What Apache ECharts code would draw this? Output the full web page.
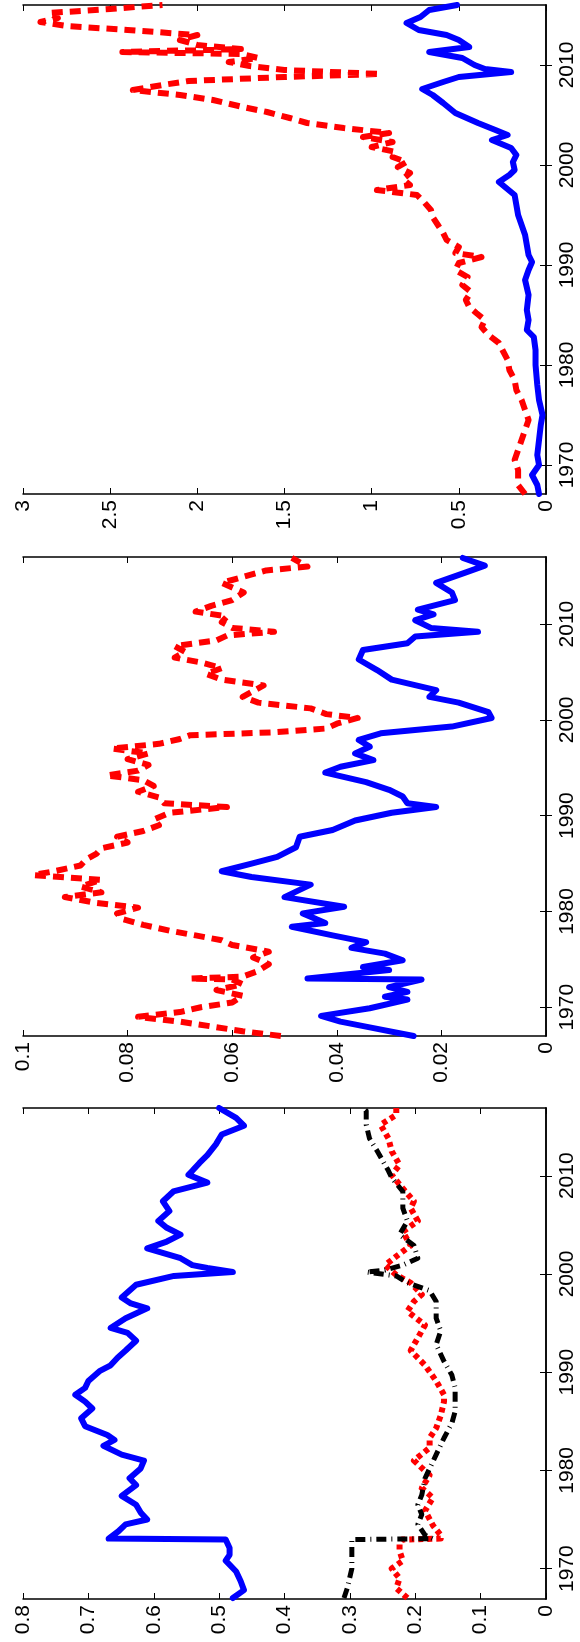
<!DOCTYPE html>
<html>
<head>
<meta charset="utf-8">
<script src="https://cdn.jsdelivr.net/npm/echarts@6/dist/echarts.min.js"></script>
<style>
html,body{margin:0;padding:0;background:#fff;}
#chart{width:580px;height:1642px;}
</style>
</head>
<body>
<div id="chart"></div>
<script>
// ---------- Tick labels ----------
const yearTicks = [1970, 1980, 1990, 2000, 2010];

// ---------- Panel C (top, 0..3) ----------
const yearsCBlue = [1967.1,1968,1969,1970,1971,1972.5,1974,1975,1976.5,1978,1980,1981.5,1982.8,1983.5,1984.5,1985.5,1987,1988.5,1989.5,1990.3,1991,1992,1993,1994,1995,1996,1997,1998.3,1999,1999.5,2000.3,2001,2001.7,2002.5,2003,2003.5,2004.2,2005.2,2006.2,2007,2007.6,2008.3,2008.8,2009.3,2009.6,2010,2010.7,2011.3,2011.8,2012.5,2013,2013.5,2014.2,2014.8,2015.5,2016];
const valsCBlue  = [0.04,0.05,0.08,0.04,0.05,0.04,0.03,0.02,0.04,0.05,0.06,0.06,0.07,0.11,0.10,0.11,0.10,0.12,0.10,0.08,0.10,0.11,0.12,0.14,0.16,0.17,0.18,0.27,0.21,0.18,0.19,0.17,0.20,0.31,0.22,0.29,0.39,0.52,0.59,0.65,0.71,0.59,0.50,0.20,0.35,0.41,0.48,0.67,0.44,0.50,0.57,0.73,0.80,0.72,0.67,0.51];

const yearsCRed = [1967.1,1968,1969.5,1970.5,1971.5,1972.5,1973.5,1974.5,1975.5,1976.5,1977.5,1978.5,1979.5,1980.5,1981.5,1982.2,1983,1983.8,1984.5,1985.2,1985.8,1986.5,1987.3,1988,1988.8,1989.5,1990.2,1990.8,1991.2,1991.8,1992.5,1993.2,1994,1994.8,1995.5,1996.3,1997,1997.5,1998,1998.6,1999.2,1999.8,2000.3,2000.8,2001.3,2001.8,2002.3,2002.8,2003.2,2003.7,2004.2,2004.7,2005.3,2005.8,2006.5,2007,2007.5,2008,2008.4,2008.8,2009.1,2009.5,2009.9,2010.3,2010.7,2011.1,2011.3,2011.6,2012,2012.5,2013,2013.5,2013.9,2014.3,2014.7,2015.2,2015.6,2016];
const valsCRed  = [0.12,0.16,0.16,0.18,0.16,0.14,0.12,0.10,0.12,0.14,0.17,0.18,0.21,0.22,0.25,0.27,0.33,0.37,0.35,0.40,0.44,0.46,0.43,0.48,0.45,0.52,0.50,0.37,0.52,0.50,0.57,0.59,0.62,0.65,0.66,0.70,0.74,0.97,0.78,0.82,0.78,0.85,0.80,0.88,0.86,1.00,0.88,1.05,0.90,1.16,1.37,1.47,1.60,1.74,1.91,2.10,2.37,2.20,2.05,1.50,0.95,1.50,1.70,1.82,1.65,1.75,2.43,1.75,2.00,2.10,2.00,2.40,2.75,2.90,2.80,2.85,2.50,2.20];

// ---------- Panel B (middle, 0..0.1) ----------
const yearsBBlue = [1967,1967.9,1968.5,1969.1,1969.9,1970.8,1971.1,1971.6,1972.1,1972.9,1973,1973.9,1974.2,1974.9,1975.6,1976.2,1976.8,1977.5,1978.4,1978.8,1979.8,1980.5,1981.5,1982.8,1983.6,1984.2,1985,1985.7,1986.7,1987.8,1988.5,1989.5,1990.3,1990.9,1991.3,1992,1992.7,1993.5,1994.5,1995.1,1995.8,1996.5,1997.2,1997.9,1998.6,1999.3,2000.2,2000.8,2001.8,2002.4,2003.1,2004.2,2005.2,2006.3,2007.3,2008,2008.7,2009.2,2009.6,2010.4,2011,2011.5,2012.5,2013.3,2014.3,2015.4,2016.1,2016.9];
const valsBBlue  = [0.0253,0.0337,0.0393,0.043,0.0337,0.0265,0.0308,0.0265,0.030,0.0238,0.0456,0.030,0.035,0.0274,0.0308,0.0372,0.0344,0.0408,0.0486,0.0422,0.0465,0.0386,0.050,0.045,0.0563,0.062,0.0563,0.0514,0.0478,0.0471,0.0408,0.0365,0.0295,0.021,0.0265,0.0274,0.030,0.0344,0.0422,0.0393,0.033,0.0365,0.0337,0.0358,0.0316,0.018,0.0104,0.011,0.0167,0.0223,0.021,0.0295,0.0323,0.0358,0.035,0.0265,0.025,0.013,0.022,0.025,0.0215,0.0245,0.0174,0.018,0.021,0.0153,0.0117,0.0159];

const yearsBRed = [1967,1967.5,1968,1968.5,1969,1969.5,1970,1970.5,1971.2,1971.8,1972.4,1972.9,1973,1973.2,1973.8,1974.5,1975.2,1975.8,1976.5,1977,1977.5,1978,1978.6,1979.2,1979.8,1980.4,1980.9,1981.5,1982,1982.6,1983.3,1983.8,1984.2,1984.8,1985.4,1986,1986.6,1987.2,1987.8,1988.4,1989,1989.6,1990.3,1990.9,1991.3,1991.9,1992.5,1993.1,1993.7,1994.2,1994.7,1995.3,1995.9,1996.5,1997,1997.5,1998,1998.4,1998.7,1999.1,1999.6,2000.2,2000.6,2001.2,2001.8,2002.4,2003,2003.6,2004.2,2004.8,2005.4,2006,2006.5,2007.1,2007.7,2008.3,2008.8,2009.2,2009.6,2010.2,2010.8,2011.3,2011.9,2012.5,2013.3,2014.3,2015.6,2016,2016.9];
const valsBRed  = [0.0507,0.058,0.064,0.070,0.078,0.070,0.066,0.060,0.058,0.063,0.058,0.060,0.068,0.058,0.055,0.053,0.056,0.053,0.060,0.062,0.067,0.072,0.077,0.081,0.082,0.078,0.086,0.092,0.085,0.089,0.085,0.098,0.094,0.089,0.088,0.086,0.085,0.080,0.082,0.077,0.074,0.075,0.072,0.061,0.073,0.074,0.078,0.075,0.077,0.084,0.078,0.076,0.080,0.076,0.083,0.074,0.070,0.068,0.052,0.042,0.040,0.036,0.042,0.045,0.055,0.058,0.056,0.054,0.062,0.065,0.062,0.066,0.071,0.069,0.071,0.063,0.061,0.052,0.060,0.062,0.061,0.067,0.064,0.060,0.0578,0.062,0.0535,0.0456,0.0486];

// ---------- Panel A (bottom, 0..0.8) ----------
const yearsABlue = [1967,1967.8,1968.7,1969.7,1970.8,1971.4,1972.1,1972.95,1973.05,1973.8,1974.5,1975,1975.7,1976.5,1977.4,1978.5,1979.2,1980.2,1981,1981.6,1982.5,1983.1,1983.6,1984.5,1985.3,1986.3,1987,1987.7,1988.4,1989.1,1990.1,1990.7,1991.5,1992.2,1993.2,1994,1994.5,1995.5,1996.5,1997,1997.6,1998.9,1999.8,2000.2,2000.6,2000.9,2001.6,2002.6,2003.3,2004,2004.7,2005.4,2006.4,2007.4,2008.4,2009.3,2010.1,2010.5,2011.3,2012.1,2013.2,2014.2,2015.1,2015.9,2016.9];
const valsABlue  = [0.479,0.462,0.467,0.474,0.49,0.484,0.484,0.49,0.669,0.654,0.643,0.61,0.62,0.627,0.649,0.627,0.637,0.62,0.615,0.649,0.677,0.66,0.671,0.705,0.711,0.694,0.705,0.72,0.705,0.70,0.683,0.666,0.655,0.643,0.627,0.64,0.666,0.643,0.61,0.635,0.649,0.627,0.569,0.479,0.518,0.541,0.559,0.61,0.58,0.559,0.58,0.593,0.576,0.586,0.57,0.518,0.547,0.541,0.53,0.518,0.505,0.496,0.462,0.474,0.50];

const yearsARed = [1967,1968,1969,1970,1970.8,1971.8,1972.6,1972.95,1973.05,1973.4,1974.4,1975.9,1977.2,1978.2,1979.5,1981,1982.3,1983.3,1984.3,1985.6,1987,1987.7,1989.1,1990.7,1992.2,1993.5,1994.8,1996.2,1997.2,1997.9,1999.1,1999.9,2000.9,2001.8,2002.9,2004.3,2005.4,2006.7,2007.4,2008.7,2010.1,2011.1,2012.5,2013.8,2015.2,2016.2,2016.9];
const valsARed  = [0.212,0.229,0.224,0.236,0.219,0.224,0.224,0.22,0.161,0.161,0.173,0.185,0.173,0.19,0.178,0.202,0.178,0.178,0.168,0.161,0.156,0.156,0.168,0.185,0.207,0.196,0.185,0.212,0.202,0.19,0.207,0.229,0.246,0.229,0.207,0.219,0.196,0.207,0.202,0.219,0.236,0.224,0.236,0.241,0.253,0.229,0.229];

const yearsABlack = [1967,1968,1970,1972.1,1972.95,1973.05,1973.4,1974.5,1975.5,1976.5,1977.5,1979.2,1980.2,1981.6,1983.3,1984.8,1986,1987,1988.4,1989.7,1991.1,1992.8,1994.2,1995.5,1997.2,1998.3,1999.1,1999.8,2000.2,2000.4,2000.9,2001.6,2002.9,2004,2005.4,2006.7,2008.4,2009.8,2010.5,2012.5,2013.8,2015.2,2016.6,2016.9];
const valsABlack  = [0.309,0.304,0.297,0.297,0.297,0.173,0.185,0.196,0.19,0.196,0.19,0.185,0.178,0.168,0.156,0.144,0.139,0.139,0.139,0.144,0.156,0.168,0.161,0.168,0.168,0.178,0.212,0.229,0.275,0.246,0.219,0.196,0.202,0.224,0.212,0.219,0.219,0.236,0.241,0.258,0.27,0.275,0.275,0.28];

function pairs(ys, vs) { return vs.map(function (v, i) { return [v, ys[i]]; }); }

const FONT = '"Liberation Sans", Arial, Helvetica, sans-serif';
const FSIZE = 21;

const grids = [
  {left: 23, right: 34, top: 5, height: 489},
  {left: 23, right: 34, top: 557, height: 479},
  {left: 23, right: 34, top: 1108, height: 491}
];
const panelX = [{max: 3, interval: 0.5}, {max: 0.1, interval: 0.02}, {max: 0.8, interval: 0.1}];
const panelY = [{min: 1967.1, max: 2016}, {min: 1967, max: 2017}, {min: 1966.9, max: 2016.9}];

const axisLineStyle = {show: true, lineStyle: {color: '#000', width: 1.5}};
const tickStyle = {color: '#000', width: 1};
const xAxes = [], yAxes = [];
panelX.forEach(function (p, g) {
  xAxes.push({
    type: 'value', gridIndex: g, position: 'bottom', inverse: true,
    min: 0, max: p.max, interval: p.interval,
    axisLine: axisLineStyle,
    axisTick: {show: true, inside: true, length: 6, lineStyle: tickStyle},
    axisLabel: {show: true, rotate: 90, margin: 6, fontSize: FSIZE, color: '#000', fontFamily: FONT, showMinLabel: true, showMaxLabel: true},
    splitLine: {show: false}
  });
  xAxes.push({
    type: 'value', gridIndex: g, position: 'top', inverse: true,
    min: 0, max: p.max, interval: p.interval,
    axisLine: axisLineStyle,
    axisTick: {show: true, inside: true, length: 6, lineStyle: tickStyle},
    axisLabel: {show: false},
    splitLine: {show: false}
  });
});
panelY.forEach(function (p, g) {
  yAxes.push({
    type: 'value', gridIndex: g, position: 'right',
    min: p.min, max: p.max,
    axisLine: axisLineStyle,
    axisTick: {show: true, inside: true, length: 6, customValues: yearTicks, lineStyle: tickStyle},
    axisLabel: {show: true, rotate: 90, margin: 11, fontSize: FSIZE, color: '#000', fontFamily: FONT,
                customValues: yearTicks, formatter: function (v) { return String(Math.round(v)); }},
    splitLine: {show: false}
  });
  yAxes.push({
    type: 'value', gridIndex: g, position: 'left',
    min: p.min, max: p.max,
    axisLine: axisLineStyle,
    axisTick: {show: true, inside: true, length: 6, customValues: yearTicks, lineStyle: tickStyle},
    axisLabel: {show: false},
    splitLine: {show: false}
  });
});

function line(name, g, ys, vs, color, width, type, cap) {
  return {
    name: name, type: 'line', xAxisIndex: g * 2, yAxisIndex: g * 2,
    data: pairs(ys, vs), showSymbol: false, symbol: 'none', clip: true,
    lineStyle: {color: color, width: width, type: type, cap: cap || 'butt', join: 'round'},
    animation: false
  };
}

const series = [
  line('C blue', 0, yearsCBlue, valsCBlue, '#0000ff', 6, 'solid', 'round'),
  line('C red', 0, yearsCRed, valsCRed, '#ff0000', 6, [11, 7]),
  line('B blue', 1, yearsBBlue, valsBBlue, '#0000ff', 6, 'solid', 'round'),
  line('B red', 1, yearsBRed, valsBRed, '#ff0000', 6, [11, 7]),
  line('A blue', 2, yearsABlue, valsABlue, '#0000ff', 6, 'solid', 'round'),
  line('A red', 2, yearsARed, valsARed, '#ff0000', 6, [5, 4]),
  line('A black', 2, yearsABlack, valsABlack, '#000000', 5, [10, 5, 1, 5])
];

const chart = echarts.init(document.getElementById('chart'), null, {renderer: 'canvas'});
chart.setOption({
  animation: false,
  backgroundColor: '#fff',
  grid: grids,
  xAxis: xAxes,
  yAxis: yAxes,
  series: series
});
</script>
</body>
</html>
